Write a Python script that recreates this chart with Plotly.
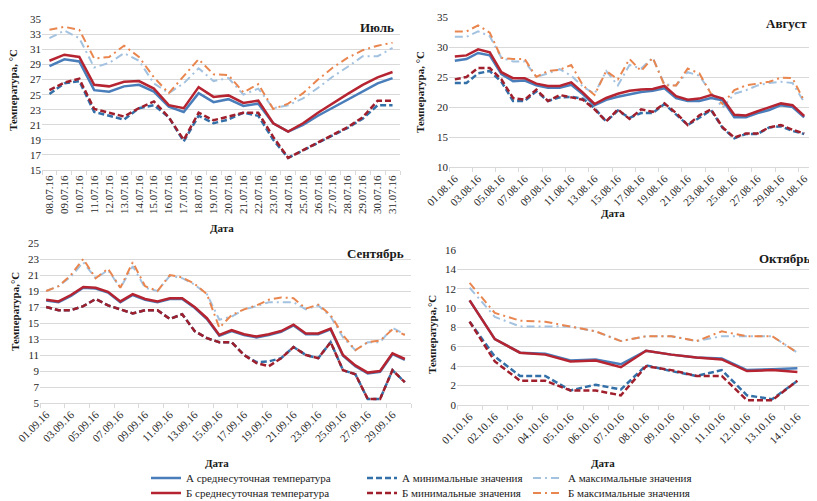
import plotly.graph_objects as go

W, H = 817, 501
OFF = 8  # page body margin offset seen in the render

# ---------------- data ----------------
jul_dates = [f"{d:02d}.07.16" for d in range(8, 32)]
aug_dates = [f"{d:02d}.08.16" for d in range(1, 32)]
sep_dates = [f"{d:02d}.09.16" for d in range(1, 31)]
oct_dates = [f"{d:02d}.10.16" for d in range(1, 15)]

jul_a_mean = [28.8, 29.7, 29.4, 25.6, 25.4, 26.1, 26.3, 25.4, 23.4, 22.7, 25.2, 24.0, 24.4, 23.5, 23.8, 21.2, 20.1, 21.0, 22.2, 23.3, 24.4, 25.5, 26.5, 27.2]
jul_b_mean = [29.5, 30.3, 30.0, 26.3, 26.1, 26.7, 26.8, 25.8, 23.6, 23.2, 26.0, 24.7, 24.9, 23.9, 24.2, 21.2, 20.1, 21.2, 22.6, 23.9, 25.1, 26.3, 27.3, 28.0]
jul_a_min = [25.1, 26.5, 26.8, 22.7, 22.2, 21.7, 23.2, 23.6, 22.0, 18.8, 22.2, 21.2, 21.7, 22.6, 22.2, 19.0, 16.6, 17.6, 18.6, 19.6, 20.6, 21.8, 23.6, 23.6]
jul_b_min = [25.6, 26.6, 27.1, 23.1, 22.6, 22.1, 23.2, 24.1, 22.0, 19.0, 22.6, 21.6, 22.1, 22.6, 22.6, 19.4, 16.6, 17.6, 18.7, 19.7, 20.7, 22.0, 24.2, 24.2]
jul_a_max = [32.5, 33.5, 32.5, 28.6, 29.2, 30.5, 29.5, 26.5, 25.2, 26.5, 28.5, 26.8, 27.2, 25.0, 25.8, 23.2, 23.6, 24.5, 25.9, 27.4, 28.7, 30.1, 30.1, 31.2]
jul_b_max = [33.6, 34.0, 33.6, 29.8, 30.0, 31.5, 30.0, 27.3, 25.2, 27.5, 29.7, 27.7, 27.6, 25.3, 26.4, 23.1, 23.8, 25.2, 27.0, 28.6, 29.9, 30.9, 31.5, 31.9]

aug_a_mean = [27.7, 28.0, 29.0, 28.6, 25.5, 24.3, 24.4, 23.6, 23.2, 23.2, 23.7, 22.1, 20.3, 21.2, 21.7, 22.1, 22.5, 22.7, 23.1, 21.5, 21.0, 21.0, 21.5, 21.1, 18.3, 18.3, 19.0, 19.5, 20.3, 20.0, 18.3]
aug_b_mean = [28.4, 28.6, 29.6, 29.1, 25.8, 24.8, 24.8, 23.9, 23.5, 23.5, 24.1, 22.4, 20.5, 21.5, 22.2, 22.7, 22.9, 23.0, 23.5, 21.8, 21.2, 21.4, 22.0, 21.4, 18.7, 18.6, 19.3, 19.9, 20.6, 20.3, 18.5]
aug_a_min = [24.0, 24.0, 25.6, 26.0, 24.2, 21.0, 21.0, 22.6, 21.0, 21.6, 21.7, 21.4, 19.8, 17.6, 19.4, 18.2, 19.0, 19.0, 20.5, 18.8, 17.0, 18.2, 19.5, 16.5, 14.8, 15.5, 15.5, 16.6, 16.8, 16.0, 15.5]
aug_b_min = [24.6, 25.0, 26.5, 26.5, 24.6, 21.5, 21.2, 22.9, 21.0, 22.0, 21.6, 21.2, 19.6, 17.6, 19.6, 18.0, 19.6, 19.2, 20.6, 19.0, 17.0, 18.6, 19.6, 16.6, 14.9, 15.6, 15.6, 16.6, 17.0, 16.2, 15.6]
aug_a_max = [31.7, 31.7, 32.6, 31.8, 28.2, 27.6, 27.6, 25.0, 25.6, 26.3, 25.2, 23.4, 22.2, 26.0, 23.6, 27.0, 26.4, 28.2, 23.8, 23.6, 25.8, 25.2, 22.4, 19.9, 22.2, 22.8, 23.6, 24.0, 24.2, 24.0, 20.8]
aug_b_max = [32.6, 32.6, 33.6, 32.4, 28.2, 28.0, 28.0, 25.0, 26.0, 26.2, 27.0, 23.6, 22.0, 26.0, 24.6, 28.0, 26.0, 28.2, 23.6, 23.6, 26.4, 25.6, 22.2, 20.5, 22.8, 23.6, 23.9, 24.2, 24.9, 24.8, 21.0]

sep_a_mean = [17.8, 17.6, 18.4, 19.4, 19.3, 18.8, 17.6, 18.5, 17.9, 17.6, 18.0, 18.0, 16.9, 15.5, 13.4, 14.0, 13.5, 13.2, 13.5, 13.9, 14.7, 13.6, 13.6, 14.2, 10.9, 9.6, 8.7, 8.9, 11.1, 10.4]
sep_b_mean = [17.9, 17.7, 18.5, 19.5, 19.4, 18.9, 17.7, 18.6, 18.0, 17.7, 18.1, 18.1, 17.0, 15.6, 13.5, 14.1, 13.6, 13.3, 13.6, 14.0, 14.8, 13.7, 13.7, 14.3, 11.0, 9.7, 8.8, 9.0, 11.2, 10.5]
sep_a_min = [17.0, 16.6, 16.6, 17.1, 18.0, 17.2, 16.7, 16.2, 16.6, 16.6, 15.5, 16.1, 14.0, 13.1, 12.6, 12.6, 11.0, 10.1, 10.2, 10.6, 12.0, 11.0, 10.6, 12.6, 9.1, 8.6, 5.5, 5.5, 9.1, 7.6]
sep_b_min = [17.0, 16.6, 16.6, 17.1, 18.0, 17.2, 16.7, 16.2, 16.6, 16.6, 15.5, 16.1, 14.0, 13.1, 12.6, 12.6, 11.0, 10.0, 9.6, 10.6, 12.0, 11.0, 10.6, 12.6, 9.1, 8.6, 5.5, 5.5, 9.1, 7.6]
sep_a_max = [19.0, 19.6, 20.8, 22.6, 20.6, 21.6, 19.4, 22.1, 19.4, 19.0, 20.9, 20.6, 19.8, 18.6, 15.4, 15.8, 16.7, 17.1, 17.6, 17.6, 17.6, 16.7, 17.2, 15.8, 13.2, 11.6, 12.6, 12.6, 14.4, 13.6]
sep_b_max = [19.0, 19.6, 21.0, 23.0, 20.6, 21.8, 19.4, 22.6, 19.6, 19.0, 21.0, 20.7, 19.9, 18.6, 14.4, 16.0, 16.7, 17.2, 17.9, 18.2, 18.1, 16.8, 17.3, 16.0, 13.5, 11.6, 12.6, 12.8, 14.2, 13.5]

oct_a_mean = [10.8, 6.8, 5.4, 5.3, 4.6, 4.7, 4.2, 5.6, 5.2, 4.9, 4.8, 3.6, 3.7, 3.8]
oct_b_mean = [10.8, 6.8, 5.4, 5.2, 4.5, 4.6, 3.9, 5.6, 5.2, 4.9, 4.7, 3.5, 3.6, 3.4]
oct_a_min = [8.6, 5.0, 3.0, 3.0, 1.5, 2.1, 1.6, 4.1, 3.5, 3.0, 3.6, 1.0, 0.6, 2.5]
oct_b_min = [8.6, 4.5, 2.5, 2.5, 1.5, 1.5, 1.0, 4.0, 3.6, 3.0, 3.0, 0.5, 0.5, 2.5]
oct_a_max = [12.1, 9.1, 8.1, 8.1, 8.1, 7.6, 6.6, 7.1, 7.1, 6.6, 7.1, 7.1, 7.1, 5.4]
oct_b_max = [12.6, 9.5, 8.7, 8.6, 8.1, 7.6, 6.6, 7.1, 7.1, 6.6, 7.6, 7.1, 7.1, 5.4]

series_names = ["А среднесуточная температура", "Б среднесуточная температура",
                "А минимальные значения", "Б минимальные значения",
                "А максимальные значения", "Б максимальные значения"]

# ---------------- styles ----------------
C_A_MEAN, C_B_MEAN = "#4A7EBB", "#B52430"
C_A_MIN, C_B_MIN = "#3470A8", "#A01F2C"
C_A_MAX, C_B_MAX = "#A3C2E0", "#E9864F"
DASH_MIN = "6px,3px"
DASH_MAX = "8px,4px,2px,4px"
SERIF = "Liberation Serif"

styles = {
    "a_max": dict(color=C_A_MAX, width=2, dash=DASH_MAX),
    "b_max": dict(color=C_B_MAX, width=2, dash=DASH_MAX),
    "a_min": dict(color=C_A_MIN, width=2.5, dash=DASH_MIN),
    "b_min": dict(color=C_B_MIN, width=2.5, dash=DASH_MIN),
    "a_mean": dict(color=C_A_MEAN, width=2.5),
    "b_mean": dict(color=C_B_MEAN, width=2.5),
}
names = {"a_mean": series_names[0], "b_mean": series_names[1],
         "a_min": series_names[2], "b_min": series_names[3],
         "a_max": series_names[4], "b_max": series_names[5]}
legend_ids = {"a_mean": "legend", "b_mean": "legend2", "a_min": "legend3",
              "b_min": "legend4", "a_max": "legend5", "b_max": "legend6"}

panels = [
    (jul_dates, dict(a_max=jul_a_max, b_max=jul_b_max, a_min=jul_a_min, b_min=jul_b_min, a_mean=jul_a_mean, b_mean=jul_b_mean)),
    (aug_dates, dict(a_max=aug_a_max, b_max=aug_b_max, a_min=aug_a_min, b_min=aug_b_min, a_mean=aug_a_mean, b_mean=aug_b_mean)),
    (sep_dates, dict(a_max=sep_a_max, b_max=sep_b_max, a_min=sep_a_min, b_min=sep_b_min, a_mean=sep_a_mean, b_mean=sep_b_mean)),
    (oct_dates, dict(a_max=oct_a_max, b_max=oct_b_max, a_min=oct_a_min, b_min=oct_b_min, a_mean=oct_a_mean, b_mean=oct_b_mean)),
]

fig = go.Figure()
for i, (dates, ser) in enumerate(panels):
    sfx = "" if i == 0 else str(i + 1)
    for key in ["a_max", "b_max", "a_min", "b_min", "a_mean", "b_mean"]:
        fig.add_trace(go.Scatter(
            x=dates, y=ser[key], mode="lines", name=names[key],
            line=styles[key], xaxis="x" + sfx, yaxis="y" + sfx,
            showlegend=(i == 0), legend=legend_ids[key],
        ))

def dx(px):
    return (px - OFF) / W

def dy(py):
    return 1 - (py - OFF) / H

# panel geometry in pixels: (x0, x1, ytop, ybottom), y range, dtick, x label step, tick angle
geo = [
    ((42, 400, 19.3, 170), [15, 35], 2, 1, -90),
    ((449, 810, 17, 167), [10, 35], 5, 2, -45),
    ((40, 411, 243, 403), [5, 25], 2, 2, -45),
    ((457, 810, 250, 405), [0, 16], 2, 1, -45),
]

tick_font = dict(family=SERIF, size=11, color="#262626")
layout = dict(
    width=W, height=H, margin=dict(l=0, r=0, t=0, b=0, autoexpand=False),
    paper_bgcolor="white", plot_bgcolor="white",
    showlegend=True,
)
for i, ((x0, x1, yt, yb), yr, ydt, xstep, ang) in enumerate(geo):
    sfx = "" if i == 0 else str(i + 1)
    n = len(panels[i][0])
    layout["xaxis" + sfx] = dict(
        domain=[dx(x0), dx(x1)], anchor="y" + sfx, type="category",
        range=[-0.5, n - 0.5], dtick=xstep, tickangle=ang, automargin=False,
        showgrid=False, showline=True, linecolor="#D9D9D9", linewidth=1,
        ticks="outside", tickson="boundaries", ticklen=4, tickcolor="#D9D9D9",
        tickfont=tick_font, zeroline=False, fixedrange=True,
    )
    layout["yaxis" + sfx] = dict(
        domain=[dy(yb), dy(yt)], anchor="x" + sfx, range=yr, dtick=ydt,
        tick0=yr[0], showgrid=True, gridcolor="#D9D9D9", gridwidth=1,
        showline=False, zeroline=False, ticks="", tickfont=tick_font,
        automargin=False, fixedrange=True,
    )

# legends: 6 single-item legends placed as in the reference (3 columns x 2 rows)
leg_pos = {"legend": (146, 478), "legend2": (146, 493),
           "legend3": (362, 478), "legend4": (362, 493),
           "legend5": (528, 478), "legend6": (528, 493)}
for lid, (px, py) in leg_pos.items():
    layout[lid] = dict(
        x=dx(px), y=dy(py), xanchor="left", yanchor="middle",
        orientation="v", bgcolor="rgba(0,0,0,0)", borderwidth=0,
        font=dict(family=SERIF, size=11, color="#1a1a1a"),
    )

fig.update_layout(**layout)

ann = []
def add_text(text, px, py, size=11, angle=0, xanchor="center", bold=True):
    ann.append(dict(
        text=f"<b>{text}</b>" if bold else text, x=dx(px), y=dy(py),
        xref="paper", yref="paper", showarrow=False, textangle=angle,
        xanchor=xanchor, yanchor="middle",
        font=dict(family=SERIF, size=size, color="#1a1a1a"),
    ))

add_text("Температура, °С", 13, 90, angle=-90)
add_text("Температура, °С", 420, 92, angle=-90)
add_text("Температура,°С", 15, 312, angle=-90)
add_text("Температура,°С", 432, 335, angle=-90)
add_text("Дата", 222, 228)
add_text("Дата", 613, 213)
add_text("Дата", 217, 463)
add_text("Дата", 603, 463)
add_text("Июль", 396, 27, size=13, xanchor="right")
add_text("Август", 809, 24, size=13, xanchor="right")
add_text("Сентябрь", 406, 253, size=13, xanchor="right")
add_text("Октябрь", 813, 258, size=13, xanchor="right")
fig.update_layout(annotations=ann)

fig.write_html("out.html")
